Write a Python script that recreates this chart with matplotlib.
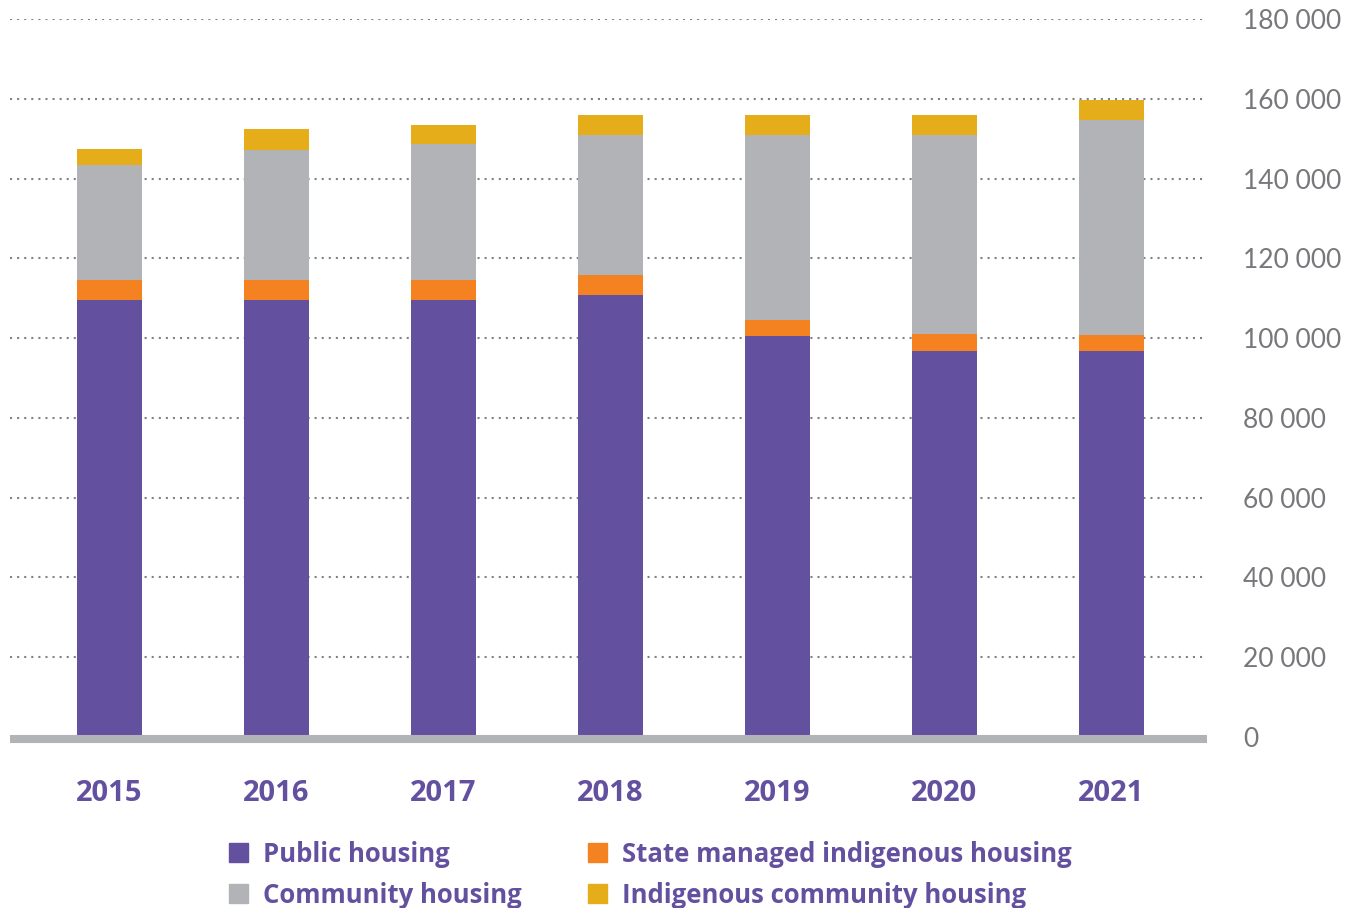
import matplotlib
matplotlib.use("Agg")
import matplotlib.pyplot as plt
from matplotlib.patches import Rectangle
import numpy as np

years = ["2015", "2016", "2017", "2018", "2019", "2020", "2021"]
public_housing = [109500, 109500, 109500, 110800, 100500, 96700, 96700]
state_managed_indigenous = [5000, 5000, 5000, 5000, 4000, 4300, 4000]
community_housing = [28900, 32600, 34200, 35100, 46400, 49900, 54100]
indigenous_community = [4000, 5300, 4700, 5000, 5000, 5000, 4800]

series_names = ["Public housing", "State managed indigenous housing",
                "Community housing", "Indigenous community housing"]
y_ticks = [0, 20000, 40000, 60000, 80000, 100000, 120000, 140000, 160000, 180000]
y_tick_labels = ["0", "20 000", "40 000", "60 000", "80 000", "100 000",
                 "120 000", "140 000", "160 000", "180 000"]

PURPLE = "#6351a0"
ORANGE = "#f58220"
GRAY = "#b1b3b6"
YELLOW = "#e5ad1a"
TICKGRAY = "#77787b"

W, H = 1362, 908
fig = plt.figure(figsize=(W / 100, H / 100), dpi=100)
ax = fig.add_axes([10 / W, 1 - 737 / H, (1207 - 10) / W, (737 - 19) / H])

x = np.arange(len(years))
bw = 0.39
b1 = np.array(public_housing)
b2 = b1 + np.array(state_managed_indigenous)
b3 = b2 + np.array(community_housing)

ax.bar(x, public_housing, bw, color=PURPLE, zorder=2)
ax.bar(x, state_managed_indigenous, bw, bottom=b1, color=ORANGE, zorder=2)
ax.bar(x, community_housing, bw, bottom=b2, color=GRAY, zorder=2)
ax.bar(x, indigenous_community, bw, bottom=b3, color=YELLOW, zorder=2)

ax.set_xlim(-0.596, 6.572)
ax.set_ylim(0, 180000)

for t in y_ticks[1:]:
    ax.axhline(t, color="#808285", lw=1.5, linestyle=(0, (1, 2.4)), zorder=1)
ax.axhline(-500, color=GRAY, lw=5.8, zorder=3, clip_on=False,
           solid_capstyle="butt")

for s in ax.spines.values():
    s.set_visible(False)

ax.yaxis.tick_right()
ax.set_yticks(y_ticks)
ax.set_yticklabels(y_tick_labels, fontsize=19, color=TICKGRAY,
                   fontfamily="Lato", fontweight="normal")
ax.tick_params(axis="y", length=0, pad=26)

ax.set_xticks(x)
ax.set_xticklabels(years, fontsize=21, color=PURPLE, fontfamily="Open Sans",
                   fontweight="bold")
ax.tick_params(axis="x", length=0, pad=30.5)

# legend
colors = [PURPLE, ORANGE, GRAY, YELLOW]
pos = [(229, 852.5), (588, 852.5), (229, 893.5), (588, 893.5)]
sq = 19
for name, c, (px, py) in zip(series_names, colors, pos):
    fig.patches.append(Rectangle((px / W, 1 - (py + sq / 2) / H), sq / W, sq / H,
                                 transform=fig.transFigure, color=c))
    fig.text((px + 34) / W, 1 - (py + 2) / H, name, fontsize=18.5, color=PURPLE,
             fontfamily="Open Sans", fontweight="bold", va="center", ha="left")

fig.savefig("out.png", dpi=100)
